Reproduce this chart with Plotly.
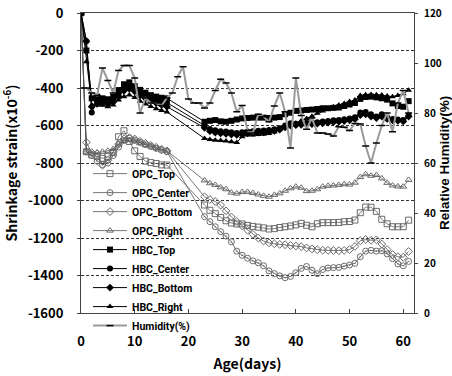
import plotly.graph_objects as go

# ---- data ----
days = [0, 1, 2, 3, 4, 5, 6, 7, 8, 9, 10, 11, 12, 13, 14, 15, 16,
        23, 24, 25, 26, 27, 28, 29, 30, 31, 32, 33, 34, 35, 36, 37, 38, 39, 40,
        41, 42, 43, 44, 45, 46, 47, 48, 49, 50, 51, 52, 53, 54, 55, 56, 57, 58, 59, 60, 61]

opc_top = [0, -740, -757, -766, -775, -766, -745, -660, -628, -685, -735, -765, -790, -798, -803, -810, -811,
           -1024, -1052, -1070, -1090, -1108, -1120, -1125, -1125, -1133, -1138, -1142, -1146, -1152, -1150,
           -1144, -1140, -1136, -1130, -1122, -1132, -1140, -1124, -1118, -1118, -1118, -1117, -1113, -1112,
           -1104, -1065, -1035, -1036, -1058, -1100, -1124, -1140, -1140, -1140, -1105]
opc_center = [0, -740, -760, -790, -808, -800, -760, -715, -680, -668, -678, -690, -702, -712, -722, -732, -740,
              -1086, -1113, -1140, -1166, -1190, -1220, -1270, -1292, -1308, -1322, -1332, -1348, -1375, -1390,
              -1402, -1412, -1405, -1385, -1362, -1352, -1372, -1390, -1368, -1360, -1358, -1357, -1350, -1344,
              -1335, -1300, -1270, -1266, -1270, -1268, -1285, -1310, -1338, -1348, -1325]
opc_bottom = [0, -690, -745, -750, -812, -785, -740, -700, -672, -665, -672, -684, -695, -706, -716, -726, -735,
              -980, -995, -1005, -1025, -1055, -1088, -1112, -1135, -1158, -1180, -1200, -1216, -1226, -1231,
              -1234, -1236, -1240, -1243, -1246, -1253, -1258, -1263, -1265, -1266, -1267, -1268, -1266, -1262,
              -1245, -1215, -1208, -1212, -1210, -1232, -1262, -1288, -1300, -1303, -1272]
opc_right = [0, -740, -750, -745, -740, -735, -725, -700, -682, -678, -685, -695, -705, -712, -720, -728, -735,
             -893, -908, -917, -930, -940, -958, -963, -955, -954, -960, -968, -975, -980, -970,
             -962, -948, -935, -926, -932, -950, -948, -940, -926, -922, -920, -917, -913, -915,
             -905, -875, -860, -868, -864, -882, -906, -920, -925, -926, -890]
hbc_top = [0, -200, -455, -446, -455, -460, -446, -411, -380, -370, -390, -410, -425, -438, -446, -452, -455,
           -580, -575, -571, -578, -580, -575, -568, -562, -560, -558, -558, -558, -560, -558,
           -555, -540, -532, -522, -520, -517, -515, -512, -508, -508, -506, -504, -496, -488,
           -480, -458, -448, -446, -450, -455, -462, -482, -496, -500, -470]
hbc_center = [0, -150, -530, -470, -465, -470, -460, -430, -400, -392, -405, -425, -440, -455, -465, -472, -478,
              -600, -618, -625, -630, -632, -636, -640, -636, -632, -630, -628, -626, -624, -620,
              -615, -600, -588, -590, -588, -585, -583, -582, -578, -576, -572, -570, -566, -562,
              -556, -530, -528, -540, -552, -540, -556, -565, -568, -570, -545]
hbc_bottom = [0, -150, -500, -485, -480, -485, -475, -445, -415, -405, -418, -440, -455, -468, -480, -490, -500,
              -612, -630, -638, -642, -645, -648, -650, -646, -642, -640, -638, -636, -632, -628,
              -622, -610, -600, -598, -596, -594, -592, -590, -588, -585, -582, -580, -576, -572,
              -566, -545, -540, -552, -560, -552, -565, -572, -575, -578, -552]
hbc_right = [0, -260, -490, -490, -492, -500, -490, -464, -446, -437, -450, -470, -485, -498, -510, -520, -528,
             -669, -675, -678, -680, -683, -686, -690, -660, -651, -650, -648, -647, -642, -635,
             -620, -606, -596, -588, -575, -562, -550, -535, -522, -512, -500, -491, -482, -472,
             -464, -440, -436, -434, -436, -437, -442, -446, -440, -430, -412]

hum_days = list(range(0, 62))
humidity = [90, 90, 88, 87, 98, 93, 88, 97, 99, 99, 94, 80, 86, 84, 84, 83, 86, 88, 94.5, 98.5,
            85.6, 84, 84, 82, 84, 89, 93.5, 92, 88, 80.5, 83, 73, 72, 79.5, 78.5, 76.5, 82.8, 88,
            80.5, 66, 94, 79, 73.5, 78, 72, 72, 71.6, 70.8, 74.5, 74.3, 73, 75.8, 75.6, 66.8, 60,
            68, 75, 80, 72.5, 84, 89, 80]

x_ticks = [0, 10, 20, 30, 40, 50, 60]
y_ticks = [0, -200, -400, -600, -800, -1000, -1200, -1400, -1600]
y_ticktext = ["0", "-200", "-400", "-600", "-800", "-1000", "-1200", "-1400", "-1600"]
y2_ticks = [0, 20, 40, 60, 80, 100, 120]

FONT = "Noto Sans CJK KR"
LEGEND_FONT = "Liberation Sans Narrow, Roboto, Noto Sans CJK KR"

fig = go.Figure()

opc_series = [("OPC_Top", opc_top, "square-open"),
              ("OPC_Center", opc_center, "circle-open-dot"),
              ("OPC_Bottom", opc_bottom, "diamond-open"),
              ("OPC_Right", opc_right, "triangle-up-open")]
for name, vals, sym in opc_series:
    fig.add_trace(go.Scatter(
        x=days, y=vals, name=name, mode="lines+markers",
        line=dict(color="#555555", width=0.8),
        marker=dict(symbol=sym, size=6, color="#6a6a6a", line=dict(color="#6a6a6a", width=1)),
    ))

hbc_series = [("HBC_Top", hbc_top, "square"),
              ("HBC_Center", hbc_center, "circle"),
              ("HBC_Bottom", hbc_bottom, "diamond"),
              ("HBC_Right", hbc_right, "triangle-up")]
for name, vals, sym in hbc_series:
    fig.add_trace(go.Scatter(
        x=days, y=vals, name=name, mode="lines+markers",
        line=dict(color="#000000", width=1),
        marker=dict(symbol=sym, size=6, color="#000000"),
    ))

fig.add_trace(go.Scatter(
    x=hum_days, y=humidity, name="Humidity(%)", mode="lines+markers", yaxis="y2",
    line=dict(color="#9a9a9a", width=2),
    marker=dict(symbol="line-ew", size=5, color="#000000", line=dict(color="#000000", width=1.5)),
))

tickfont = dict(family=FONT, size=13, color="#000", weight="bold")
titlefont = dict(family=FONT, size=14, color="#000", weight="bold")

fig.update_layout(
    width=452, height=376,
    margin=dict(l=81, r=38, t=13, b=63, autoexpand=False),
    paper_bgcolor="white", plot_bgcolor="white",
    showlegend=True,
    legend=dict(x=0.021, y=0.513, xanchor="left", yanchor="top",
                bgcolor="rgba(255,255,255,0)", borderwidth=0,
                font=dict(family=LEGEND_FONT, size=10.5, color="#000", weight="bold"),
                itemwidth=34, tracegroupgap=0),
    xaxis=dict(range=[0, 62], tickvals=x_ticks, ticks="inside", ticklen=4, tickcolor="#444",
               showline=True, linecolor="#444", linewidth=1, mirror=True, automargin=False,
               showgrid=False, zeroline=False, tickfont=tickfont, ticklabelstandoff=16,
               title=dict(text="Age(days)", font=titlefont, standoff=10)),
    yaxis=dict(range=[-1600, 0], tickvals=y_ticks, ticktext=y_ticktext,
               ticks="outside", ticklen=3, tickcolor="#444", automargin=False,
               ticklabeloverflow="allow",
               showline=True, linecolor="#444", linewidth=1,
               showgrid=True, gridcolor="#333", gridwidth=1, griddash="3px,2px",
               zeroline=False, tickfont=tickfont, ticklabelstandoff=11,
               title=dict(text="Shrinkage strain(x10<sup>-6</sup>)", font=titlefont, standoff=8)),
    yaxis2=dict(range=[0, 120], tickvals=y2_ticks, overlaying="y", side="right",
                ticks="outside", ticklen=3, tickcolor="#444", automargin=False,
                ticklabeloverflow="allow",
                showline=True, linecolor="#444", linewidth=1,
                showgrid=False, zeroline=False,
                tickfont=dict(family=FONT, size=10, color="#000", weight="bold"),
                ticklabelstandoff=4),
    annotations=[dict(text="Relative Humidity(%)", xref="paper", yref="paper",
                      x=1.09, y=0.5, xanchor="center", yanchor="middle",
                      textangle=-90, showarrow=False,
                      font=dict(family="Liberation Sans, Arial", size=13.5, color="#000", weight="bold"))],
)

# remove the page's default body margin so the 452x376 figure fills the window exactly
fig.write_html("out.html", config={"displayModeBar": False},
               post_script="document.body.style.margin='0px';")
